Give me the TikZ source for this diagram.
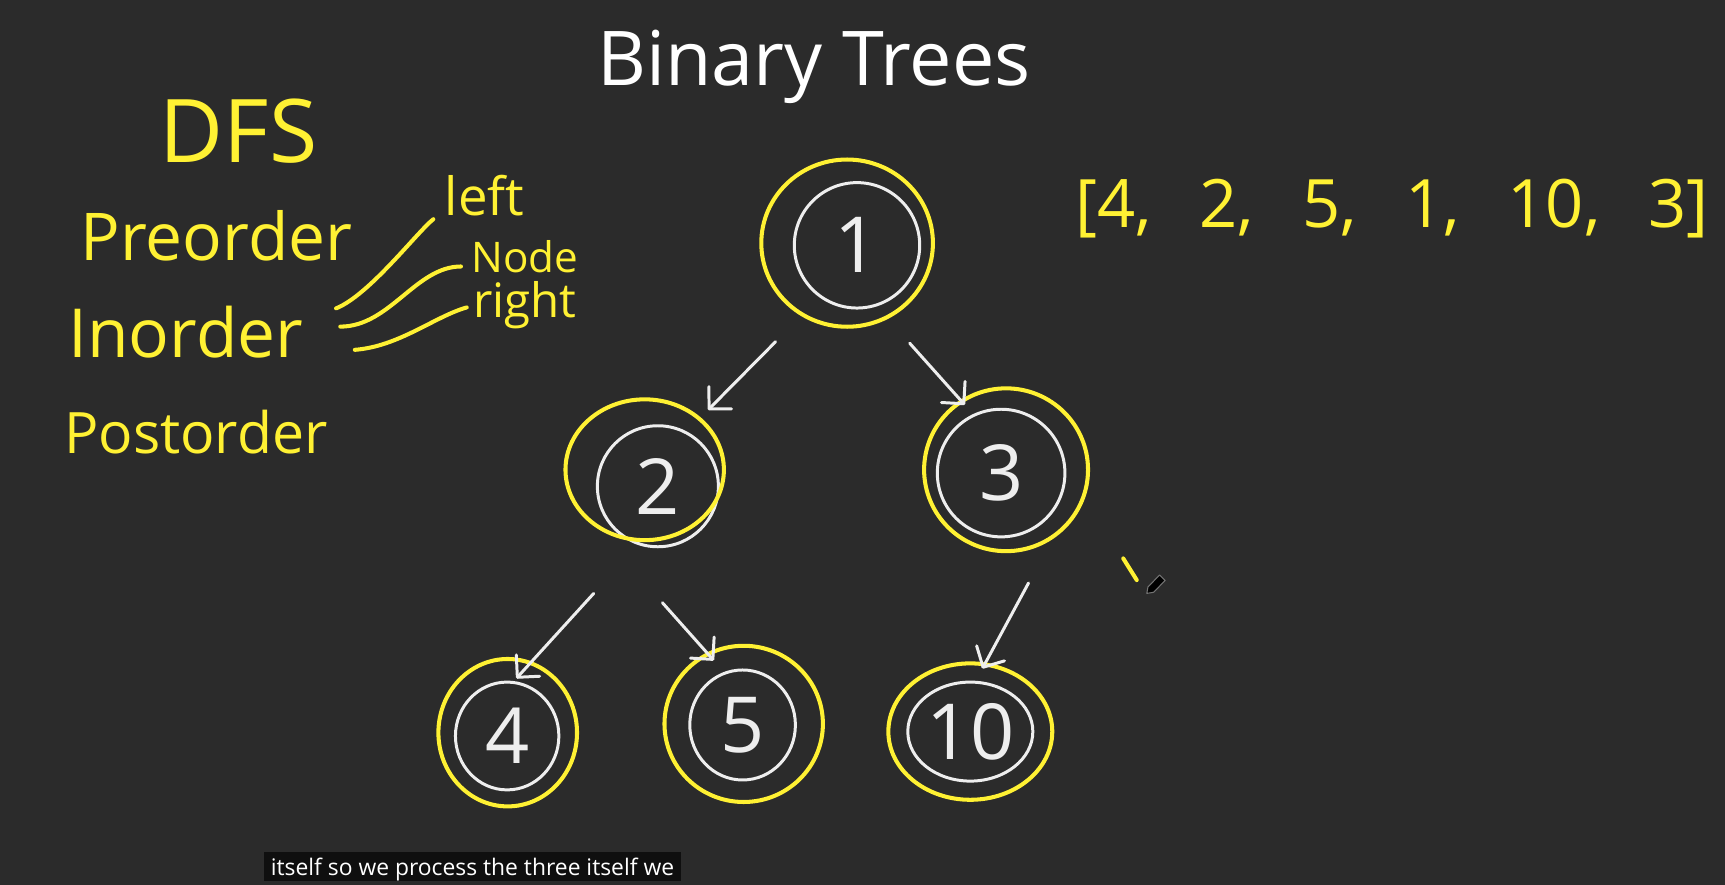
\documentclass[tikz,border=0pt]{standalone}
\usepackage{fontspec}
\setmainfont{Open Sans}
\usepackage{tikz}
\usetikzlibrary{arrows.meta,shapes.geometric}
\definecolor{btboard}{HTML}{2B2B2B}
\definecolor{btyellow}{HTML}{FFF133}
\definecolor{btchalk}{HTML}{EEEEEE}
\definecolor{btcaption}{HTML}{0F0F0F}
\newlength{\unitpx}
\setlength{\unitpx}{0.022cm}
\tikzset{
  btnode/.style 2 args={ellipse, draw=btchalk, line width=1.7pt, text=btchalk, minimum width=#1\unitpx, minimum height=#2\unitpx, inner sep=0pt, outer sep=0pt, font=\fontsize{44}{44}\selectfont},
  btring/.style 2 args={ellipse, draw=btyellow, line width=2.3pt, minimum width=#1\unitpx, minimum height=#2\unitpx, inner sep=0pt, outer sep=0pt},
  btedge/.style={draw=btchalk, line width=1.7pt, line cap=round, -{Straight Barb[length=9pt,width=18pt,round]}},
  btnote/.style={text=btyellow, inner sep=0pt, anchor=base west},
  btscribble/.style={draw=btyellow, line width=2.3pt, line cap=round}
}

\begin{document}
\begin{tikzpicture}[x=0.022cm, y=-0.022cm]
  \useasboundingbox (0,0) rectangle (1568,804);
  \fill[btboard] (0,0) rectangle (1568,804);

  \node[text=white, font=\fontsize{43}{43}\selectfont, anchor=base, inner sep=0pt] (title) at (740,77.3) {Binary Trees};

  % traversal notes
  \node[btnote, font=\fontsize{50}{50}\selectfont] (dfs) at (145,148) {DFS};
  \node[btnote, font=\fontsize{37.5}{37.5}\selectfont] (pre) at (73,237) {Preorder};
  \node[btnote, font=\fontsize{38.5}{38.5}\selectfont] (ino) at (62,325) {Inorder};
  \node[btnote, font=\fontsize{32.5}{32.5}\selectfont] (post) at (58,412) {Postorder};
  \node[btnote, font=\fontsize{30}{30}\selectfont] (lft) at (404,196) {left};
  \node[btnote, font=\fontsize{24}{24}\selectfont] (nd) at (428,248) {Node};
  \node[btnote, font=\fontsize{27}{27}\selectfont] (rgt) at (430,289) {right};
  \coordinate (s1) at (305.5,280.3);
  \coordinate (s2) at (309.3,296.9);
  \coordinate (s3) at (322.5,318);
  \draw[btscribble, shorten >=13\unitpx] (s1) .. controls +(30,-12) and +(-25,20) .. (lft.200);
  \draw[btscribble, shorten >=9\unitpx] (s2) .. controls +(45,0) and +(-50,0) .. (nd.190);
  \draw[btscribble, shorten >=6\unitpx] (s3) .. controls +(40,-3) and +(-35,10) .. (rgt.west);

  \node[btnote, font={\fontsize{38}{38}\selectfont\spaceskip=0.72em\relax}] (arr) at (977,207) {[4, 2, 5, 1, 10, 3]};

  % tree
  \node[btnode={114}{114}] (n1) at (779,223) {1};
  \node[btnode={110}{110}] (n2) at (598,442) {2};
  \node[btnode={116}{116}] (n3) at (910,430) {3};
  \node[btnode={94}{98}] (n4) at (461,669) {4};
  \node[btnode={96}{100}] (n5) at (675,659) {5};
  \node[btnode={108}{90}] (n10) at (882,665) {10};

  \node[btring={156}{152}] (h1) at (770,221) {};
  \node[btring={144}{128}] (h2) at (586,427) {};
  \node[btring={149}{148}] (h3) at (914.5,427) {};
  \node[btring={126}{134}] (h4) at (461.5,666) {};
  \node[btring={144}{142}] (h5) at (676,658) {};
  \node[btring={149}{124}] (h10) at (882,665) {};

  \draw[btedge, shorten <=34.8\unitpx, shorten >=11.2\unitpx] (h1.238) -- (h2.43);
  \draw[btedge, shorten <=31.5\unitpx, shorten >=-4.3\unitpx] (h1.298) -- (h3.123);
  \draw[btedge, shorten <=65.5\unitpx, shorten >=-18.9\unitpx] (h2.268) -- (h4.72);
  \draw[btedge, shorten <=103\unitpx, shorten >=-7.8\unitpx] (h2.220) -- (h5.117);
  \draw[btedge, shorten <=48.8\unitpx, shorten >=-4.3\unitpx] (h3.306) -- (h10.78);

  % stray mark and pen cursor
  \draw[btscribble] (1021,507.6) -- (1033.3,527.3);
  \filldraw[fill=black, draw=black!55, line width=0.6pt, line join=round] (1042.4,539.4) -- (1048.5,538.4) -- (1059.1,527.7) -- (1054.1,522.7) -- (1043.5,533.4) -- cycle;

  \node[fill=btcaption, text=white, font=\fontsize{13}{13}\selectfont, anchor=base west, inner xsep=3.7pt, inner ysep=0pt, text height=12.9pt, text depth=3.4pt] (cap) at (240,795.5) {itself so we process the three itself we};
\end{tikzpicture}
\end{document}
